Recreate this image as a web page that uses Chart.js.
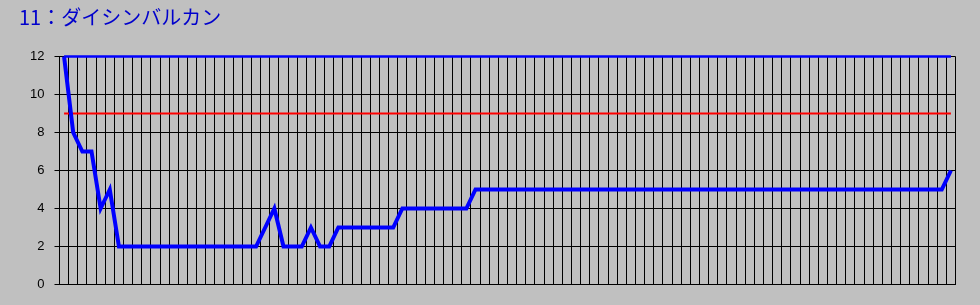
<!DOCTYPE html>
<html>
<head>
<meta charset="utf-8">
<script src="https://cdn.jsdelivr.net/npm/chart.js@4/dist/chart.umd.min.js"></script>
<style>
    html, body { margin: 0; padding: 0; background: #c0c0c0; }
    #wrap { width: 980px; height: 305px; }
</style>
</head>
<body>
<div id="wrap"><canvas id="rankChart" width="980" height="305"></canvas></div>
<script>
// レース番号 (1〜98)
const races = [
    1, 2, 3, 4, 5, 6, 7, 8, 9, 10, 11, 12, 13, 14,
    15, 16, 17, 18, 19, 20, 21, 22, 23, 24, 25, 26, 27, 28,
    29, 30, 31, 32, 33, 34, 35, 36, 37, 38, 39, 40, 41, 42,
    43, 44, 45, 46, 47, 48, 49, 50, 51, 52, 53, 54, 55, 56,
    57, 58, 59, 60, 61, 62, 63, 64, 65, 66, 67, 68, 69, 70,
    71, 72, 73, 74, 75, 76, 77, 78, 79, 80, 81, 82, 83, 84,
    85, 86, 87, 88, 89, 90, 91, 92, 93, 94, 95, 96, 97, 98
];

// 順位の推移
const rank = [
    12, 8, 7, 7, 4, 5,
    2, 2, 2, 2, 2, 2, 2, 2, 2, 2, 2, 2, 2, 2, 2, 2,
    3, 4, 2, 2, 2, 3, 2, 2,
    3, 3, 3, 3, 3, 3, 3,
    4, 4, 4, 4, 4, 4, 4, 4,
    5, 5, 5, 5, 5, 5, 5, 5, 5, 5, 5, 5, 5,
    5, 5, 5, 5, 5, 5, 5, 5, 5, 5, 5, 5, 5,
    5, 5, 5, 5, 5, 5, 5, 5, 5, 5, 5, 5, 5,
    5, 5, 5, 5, 5, 5, 5, 5, 5, 5, 5, 5, 5,
    6
];

// 上限ライン (12)
const upper = [
    12, 12, 12, 12, 12, 12, 12, 12, 12, 12, 12, 12, 12, 12,
    12, 12, 12, 12, 12, 12, 12, 12, 12, 12, 12, 12, 12, 12,
    12, 12, 12, 12, 12, 12, 12, 12, 12, 12, 12, 12, 12, 12,
    12, 12, 12, 12, 12, 12, 12, 12, 12, 12, 12, 12, 12, 12,
    12, 12, 12, 12, 12, 12, 12, 12, 12, 12, 12, 12, 12, 12,
    12, 12, 12, 12, 12, 12, 12, 12, 12, 12, 12, 12, 12, 12,
    12, 12, 12, 12, 12, 12, 12, 12, 12, 12, 12, 12, 12, 12
];

// 基準ライン (9)
const border = [
    9, 9, 9, 9, 9, 9, 9, 9, 9, 9, 9, 9, 9, 9,
    9, 9, 9, 9, 9, 9, 9, 9, 9, 9, 9, 9, 9, 9,
    9, 9, 9, 9, 9, 9, 9, 9, 9, 9, 9, 9, 9, 9,
    9, 9, 9, 9, 9, 9, 9, 9, 9, 9, 9, 9, 9, 9,
    9, 9, 9, 9, 9, 9, 9, 9, 9, 9, 9, 9, 9, 9,
    9, 9, 9, 9, 9, 9, 9, 9, 9, 9, 9, 9, 9, 9,
    9, 9, 9, 9, 9, 9, 9, 9, 9, 9, 9, 9, 9, 9
];

const yTicks = [0, 2, 4, 6, 8, 10, 12];

const ctx = document.getElementById('rankChart');

new Chart(ctx, {
    type: 'line',
    data: {
        labels: races,
        datasets: [
            {
                label: '順位',
                data: rank,
                borderColor: '#0000ff',
                borderWidth: 4,
                pointRadius: 0,
                tension: 0,
                fill: false,
                clip: false
            },
            {
                label: '上限',
                data: upper,
                borderColor: '#0000ff',
                borderWidth: 2.5,
                pointRadius: 0,
                tension: 0,
                fill: false,
                clip: false
            },
            {
                label: '基準',
                data: border,
                borderColor: '#ff0000',
                borderWidth: 2,
                pointRadius: 0,
                tension: 0,
                fill: false
            }
        ]
    },
    options: {
        responsive: false,
        animation: false,
        events: [],
        layout: {
            padding: { left: 19, right: 24.5, top: 0, bottom: 20.5 }
        },
        plugins: {
            legend: { display: false },
            tooltip: { enabled: false },
            title: {
                display: true,
                text: '11：ダイシンバルカン',
                align: 'start',
                color: '#0000cc',
                font: { family: '"Noto Sans CJK JP", "Noto Sans", sans-serif', size: 20, weight: 'normal', lineHeight: 1.2 },
                padding: { top: 5, bottom: 27.5 }
            }
        },
        scales: {
            x: {
                type: 'category',
                offset: true,
                ticks: { display: false, autoSkip: false },
                grid: { offset: true, color: '#000000', lineWidth: 1, drawTicks: false },
                border: { display: true, color: '#000000', width: 1 },
                afterFit: function (scale) { scale.height = 0; }
            },
            y: {
                min: 0,
                max: 12,
                afterBuildTicks: function (scale) {
                    scale.ticks = yTicks.map(function (v) { return { value: v }; });
                },
                ticks: {
                    color: '#000000',
                    padding: 10,
                    font: { family: '"Liberation Sans", Arial, sans-serif', size: 13 }
                },
                grid: { color: '#000000', lineWidth: 1, tickLength: 5 },
                border: { display: true, color: '#000000', width: 1 },
                afterFit: function (scale) { scale.width = 40.5; }
            }
        }
    }
});
</script>
</body>
</html>
